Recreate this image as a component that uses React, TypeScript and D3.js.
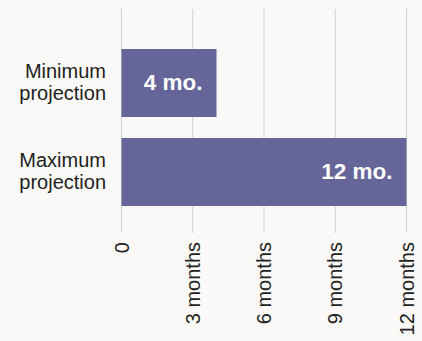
import React from "react";
import * as d3 from "d3";

const categories = [["Minimum", "projection"], ["Maximum", "projection"]];
const values = [4, 12];
const valueLabels = ["4 mo.", "12 mo."];
const tickValues = [0, 3, 6, 9, 12];
const tickLabels = ["0", "3 months", "6 months", "9 months", "12 months"];

const W = 422;
const H = 341;
const font = "'Liberation Sans', Arial, sans-serif";

export default function App() {
  const x = d3.scaleLinear().domain([0, 12]).range([121.5, 406.5]);
  const y = d3
    .scaleBand<number>()
    .domain([0, 1])
    .range([49, 206])
    .paddingInner(21 / 89)
    .paddingOuter(0);

  return (
    <svg width={W} height={H} style={{ position: "absolute", left: 0, top: 0, background: "#FAF9F7" }}>
      <rect width={W} height={H} fill="#FAF9F7" />
      {tickValues.map((t) => (
        <line key={t} x1={x(t)} x2={x(t)} y1={9} y2={233} stroke="#cfcfcf" strokeWidth={1} />
      ))}
      {values.map((v, i) => (
        <g key={i}>
          <rect x={x(0)} y={y(i)} width={x(v) - x(0)} height={y.bandwidth()} fill="#66659A" />
          <text
            x={x(v) - 14}
            y={y(i)! + y.bandwidth() / 2 + 7}
            textAnchor="end"
            fill="#fff"
            fontFamily={font}
            fontWeight="bold"
            fontSize={22.5}
          >
            {valueLabels[i]}
          </text>
          <text textAnchor="end" fontFamily={font} fontSize={20} fill="#222">
            {categories[i].map((line, j) => (
              <tspan key={j} x={106} y={y(i)! + y.bandwidth() / 2 - 5 + j * 22}>
                {line}
              </tspan>
            ))}
          </text>
        </g>
      ))}
      {tickValues.map((t, i) => (
        <text
          key={t}
          transform={`translate(${x(t)},242) rotate(-90)`}
          textAnchor="end"
          dy="0.35em"
          fontFamily={font}
          fontSize={20}
          fill="#222"
        >
          {tickLabels[i]}
        </text>
      ))}
    </svg>
  );
}
